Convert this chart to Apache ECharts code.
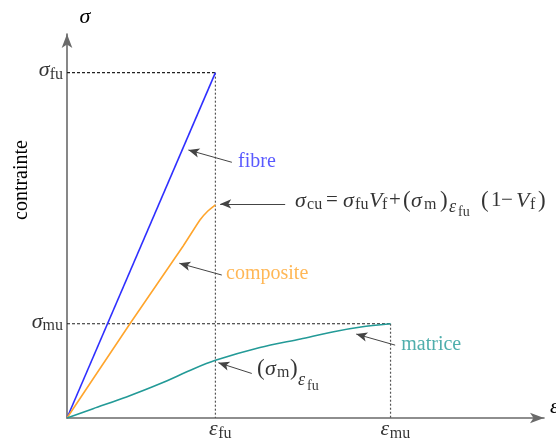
<!DOCTYPE html>
<html>
<head>
<meta charset="utf-8">
<script src="https://cdn.jsdelivr.net/npm/echarts@6/dist/echarts.min.js"></script>
<style>
  html, body { margin: 0; padding: 0; background: #fff; }
  #main { width: 556px; height: 439px; }
</style>
</head>
<body>
<div id="main"></div>
<script>
// unites relatives : deformation (eps_fu = 1), contrainte (sigma_fu = 100)
let EPS_FU = 1.0
let EPS_MU = 2.18
let SIG_FU = 100
let SIG_MU = 27.3

// courbes contrainte / deformation
let fibreData = [[0, 0], [1.0, 100]]
let compositeData = [[0, 0], [0.424, 27.3], [0.784, 49.9], [0.897, 57.4], [0.946, 59.8], [1.0, 61.7]]
let matrixData = [[0, 0], [0.176, 2.7], [0.401, 6.1], [0.626, 9.9], [0.851, 14.2], [1.0, 16.7],
  [1.30, 20.4], [1.574, 22.9], [1.797, 25.0], [1.98, 26.35], [2.18, 27.3]]

// graduations
let yTicks = [[SIG_FU, 'fu'], [SIG_MU, 'mu']]
let xTicks = [[EPS_FU, 'fu'], [EPS_MU, 'mu']]

// fleches d'annotation [queue, pointe]
let arrows = [
  [[1.111, 74.05], [0.818, 77.6]],
  [[1.470, 62.0], [1.032, 62.0]],
  [[1.043, 41.4], [0.757, 44.8]],
  [[2.211, 21.1], [1.949, 24.3]],
  [[1.245, 12.9], [1.020, 16.0]]
]

const BLUE = '#2f2fff'
const ORANGE = '#ffa52c'
const TEAL = '#239a97'
const serif = 'Liberation Serif'
const ink = '#000'

// tk: style d'un morceau de texte riche (indices : alignes en bas, hauteur = decalage)
function tk(size, lh, opts) {
  return Object.assign({ fontFamily: serif, fontSize: size, color: ink, verticalAlign: 'middle', lineHeight: lh }, opts || {})
}
let rich = {
  // formule sigma_cu
  s: tk(22, 30, { fontStyle: 'italic' }),
  t: tk(21, 30),
  p: tk(23, 30),
  b: tk(16, 30, { verticalAlign: 'bottom', height: 21 }),
  e: tk(18, 30, { fontStyle: 'italic', verticalAlign: 'bottom', height: 17.4 }),
  bb: tk(14, 30, { verticalAlign: 'bottom', height: 7 }),
  // (sigma_m)_eps_fu
  s2: tk(22, 44, { fontStyle: 'italic' }),
  p2: tk(23, 44),
  b2: tk(16, 44, { verticalAlign: 'bottom', height: 36.8 }),
  e2: tk(18, 44, { fontStyle: 'italic', verticalAlign: 'bottom', height: 21.4 }),
  bb2: tk(14, 44, { verticalAlign: 'bottom', height: 9 }),
  // graduations
  ax: tk(22, 30, { fontStyle: 'italic' }),
  axb: tk(16, 30, { verticalAlign: 'bottom', height: 21 })
}

function w(style, text, width) {
  rich[style + width] = Object.assign({}, rich[style], { width: width })
  return '{' + style + width + '|' + text + '}'
}

let formula = w('s', 'σ', 12) + w('b', 'cu', 19) + w('t', '=', 17) +
  w('s', 'σ', 12) + w('b', 'fu', 14) + w('s', 'V', 13) + w('b', 'f', 7) + w('t', '+', 14) +
  w('p', '(', 8) + w('s', 'σ', 13) + w('b', 'm', 16) + w('p', ')', 9) + w('e', 'ε', 9) + w('bb', 'fu', 23) +
  w('p', '(', 10) + w('t', '1', 10) + w('t', '−', 15) + w('s', 'V', 14) + w('b', 'f', 8) + w('p', ')', 9)

let sigmaM = w('p2', '(', 8) + w('s2', 'σ', 12) + w('b2', 'm', 13) + w('p2', ')', 8) + w('e2', 'ε', 9) + '{bb2|fu}'

let labelItems = []
yTicks.forEach(t => {
  labelItems.push({ value: [0, t[0]], label: { position: 'left', distance: 4, offset: [0, -2], formatter: w('ax', 'σ', 12) + '{axb|' + t[1] + '}' } })
})
xTicks.forEach(t => {
  labelItems.push({ value: [t[0], 0], label: { position: 'bottom', distance: -4, offset: [4.5, 0], formatter: w('ax', 'ε', 10) + '{axb|' + t[1] + '}' } })
})
labelItems.push({ value: [1.153, 74.1], label: { position: 'right', distance: 0, formatter: 'fibre', color: BLUE } })
labelItems.push({ value: [1.072, 41.7], label: { position: 'right', distance: 0, formatter: 'composite', color: ORANGE } })
labelItems.push({ value: [2.252, 21.1], label: { position: 'right', distance: 0, formatter: 'matrice', color: TEAL } })
labelItems.push({ value: [1.537, 62.9], label: { position: 'right', distance: 0, formatter: formula } })
labelItems.push({ value: [1.281, 14.1], label: { position: 'right', distance: 0, formatter: sigmaM } })

function guide(data, type, color) {
  return {
    type: 'line', data: data, showSymbol: false, silent: true, z: 1,
    lineStyle: { color: color, width: 1.2, type: type }
  }
}

let chart = echarts.init(document.getElementById('main'), null, { renderer: 'canvas' })
chart.setOption({
  animation: false,
  backgroundColor: '#fff',
  grid: { left: 67, right: 12, top: 34, bottom: 21 },
  xAxis: {
    type: 'value', min: 0, max: 3.214,
    splitLine: { show: false }, axisTick: { show: false }, axisLabel: { show: false },
    axisLine: { onZero: false, symbol: ['none', 'arrow'], symbolSize: [8, 14], lineStyle: { color: '#6a6a6a', width: 1.6 } }
  },
  yAxis: {
    type: 'value', min: 0, max: 111.2,
    splitLine: { show: false }, axisTick: { show: false }, axisLabel: { show: false },
    axisLine: { show: true, onZero: false, symbol: ['none', 'arrow'], symbolSize: [8, 14], lineStyle: { color: '#6a6a6a', width: 1.6 } }
  },
  graphic: [
    { type: 'text', x: 85, y: 17, style: { text: 'σ', font: 'italic 22px "Liberation Serif"', fill: ink, align: 'center', verticalAlign: 'middle' } },
    { type: 'text', x: 550, y: 407, style: { text: 'ε', font: 'italic 22px "Liberation Serif"', fill: ink, align: 'left', verticalAlign: 'middle' } },
    { type: 'text', x: 22, y: 180, rotation: Math.PI / 2, style: { text: 'contrainte', font: '20px "Liberation Serif"', fill: ink, align: 'center', verticalAlign: 'middle' } }
  ],
  series: [
    guide([[0, SIG_FU], [EPS_FU, SIG_FU]], [3, 2], '#222'),
    guide([[EPS_FU, SIG_FU], [EPS_FU, 0]], [2, 2], '#555'),
    guide([[0, SIG_MU], [EPS_MU, SIG_MU]], [3, 2], '#222'),
    guide([[EPS_MU, SIG_MU], [EPS_MU, 0]], [2, 2], '#555'),
    { name: 'fibre', type: 'line', data: fibreData, showSymbol: false, z: 3, lineStyle: { color: BLUE, width: 1.6 } },
    { name: 'composite', type: 'line', data: compositeData, smooth: 0.2, showSymbol: false, z: 3, lineStyle: { color: ORANGE, width: 1.6 } },
    { name: 'matrice', type: 'line', data: matrixData, smooth: 0.3, showSymbol: false, z: 3, lineStyle: { color: TEAL, width: 1.6 } },
    {
      name: 'labels', type: 'scatter', symbolSize: 0, silent: true, z: 5,
      data: labelItems,
      label: { show: true, fontFamily: serif, fontSize: 20, color: ink, rich: rich },
      markLine: {
        silent: true, animation: false,
        symbol: ['none', 'arrow'], symbolSize: [7, 11],
        label: { show: false },
        lineStyle: { color: '#444', width: 1, type: 'solid' },
        data: arrows.map(a => [{ coord: a[0] }, { coord: a[1] }])
      }
    }
  ]
})
</script>
</body>
</html>
